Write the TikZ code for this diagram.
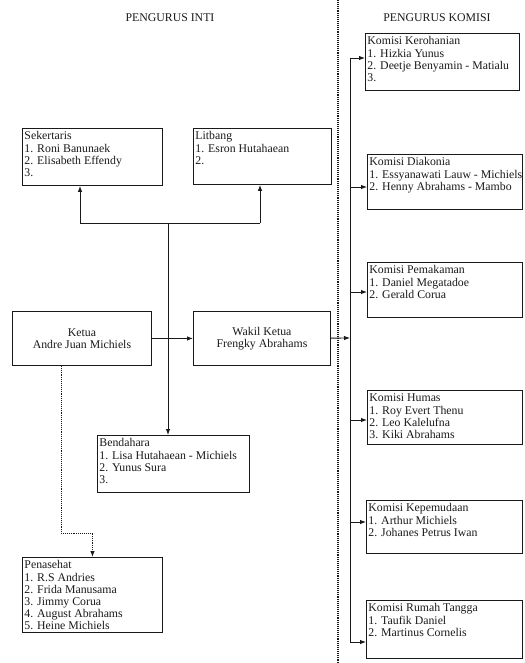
\documentclass[tikz,border=0pt]{standalone}
\usepackage{fontspec}
\setmainfont{Liberation Serif}
\usetikzlibrary{arrows.meta}

\newcommand{\isi}[3]{\parbox[t][#2][t]{#1}{\begin{tabular}[t]{@{}l@{}}#3\end{tabular}}}

\tikzset{
  kotak/.style={draw, anchor=north west, inner xsep=2pt, inner ysep=3pt},
  tengah/.style={draw, anchor=north west, align=center},
  panah/.style={-{Latex[length=6pt,width=4.5pt]}},
}

\begin{document}
\begin{tikzpicture}[x=1pt,y=-1pt,line width=0.9pt,color=black!90,
    font=\fontsize{11.8}{12.1}\selectfont]
  \useasboundingbox (0,0) rectangle (524,663);

  % judul
  \node (inti) at (170,18) {PENGURUS INTI};
  \node (komisi) at (437,18) {PENGURUS KOMISI};

  % pemisah
  \draw[densely dotted,line width=1.1pt] (338,0) -- (338,663);

  % pengurus inti
  \node[kotak] (sekertaris) at (22,128) {\isi{136pt}{51pt}{Sekertaris\\1. Roni Banunaek\\2. Elisabeth Effendy\\3.}};
  \node[kotak] (litbang) at (193,128) {\isi{134pt}{50pt}{Litbang\\1. Esron Hutahaean\\2.}};
  \node[tengah,minimum width=139pt,minimum height=54pt] (ketua) at (12,311) {Ketua\\Andre Juan Michiels};
  \node[tengah,minimum width=137pt,minimum height=54pt] (wakil) at (193,311) {Wakil Ketua\\Frengky Abrahams};
  \node[kotak] (bendahara) at (97,435) {\isi{148pt}{51pt}{Bendahara\\1. Lisa Hutahaean - Michiels\\2. Yunus Sura\\3.}};
  \node[kotak] (penasehat) at (22,557) {\isi{136pt}{69pt}{Penasehat\\1. R.S Andries\\2. Frida Manusama\\3. Jimmy Corua\\4. August Abrahams\\5. Heine Michiels}};

  % pengurus komisi
  \node[kotak] (kerohanian) at (365,33) {\isi{150pt}{51pt}{Komisi Kerohanian\\1. Hizkia Yunus\\2. Deetje Benyamin - Matialu\\3.}};
  \node[kotak] (diakonia) at (367,154) {\isi{151pt}{49pt}{Komisi Diakonia\\1. Essyanawati Lauw - Michiels\\2. Henny Abrahams - Mambo}};
  \node[kotak] (pemakaman) at (367,262) {\isi{151pt}{49pt}{Komisi Pemakaman\\1. Daniel Megatadoe\\2. Gerald Corua}};
  \node[kotak] (humas) at (367,390) {\isi{151pt}{48pt}{Komisi Humas\\1. Roy Evert Thenu\\2. Leo Kalelufna\\3. Kiki Abrahams}};
  \node[kotak] (kepemudaan) at (366,500) {\isi{152pt}{47pt}{Komisi Kepemudaan\\1. Arthur Michiels\\2. Johanes Petrus Iwan}};
  \node[kotak] (rumahtangga) at (366,600) {\isi{152pt}{52pt}{Komisi Rumah Tangga\\1. Taufik Daniel\\2. Martinus Cornelis}};

  % garis inti
  \coordinate (cabang) at (168,223);
  \coordinate (kiri) at (80,223);
  \coordinate (kanan) at (260,223);
  \draw (kiri) -- (kanan);
  \draw[panah] (kiri) -- (kiri |- sekertaris.south);
  \draw[panah] (kanan) -- (kanan |- litbang.south);
  \draw[panah] (cabang) -- (cabang |- bendahara.north);
  \draw[panah] (ketua) -- (wakil);

  \coordinate (belok) at (61,533);
  \draw[densely dotted,panah] (ketua.south -| belok) -- (belok) -| (penasehat.north);

  % garis komisi
  \coordinate (rel) at (350,338);
  \coordinate (r1) at (350,58);
  \coordinate (r2) at (350,187);
  \coordinate (r3) at (350,292);
  \coordinate (r4) at (350,420);
  \coordinate (r5) at (350,522);
  \coordinate (r6) at (350,642);
  \draw[panah] (wakil) -- (rel);
  \draw (r1) -- (r6);
  \draw[panah] (r1) -- (r1 -| kerohanian.west);
  \draw[panah] (r2) -- (r2 -| diakonia.west);
  \draw[panah] (r3) -- (r3 -| pemakaman.west);
  \draw[panah] (r4) -- (r4 -| humas.west);
  \draw[panah] (r5) -- (r5 -| kepemudaan.west);
  \draw[panah] (r6) -- (r6 -| rumahtangga.west);

\end{tikzpicture}
\end{document}
